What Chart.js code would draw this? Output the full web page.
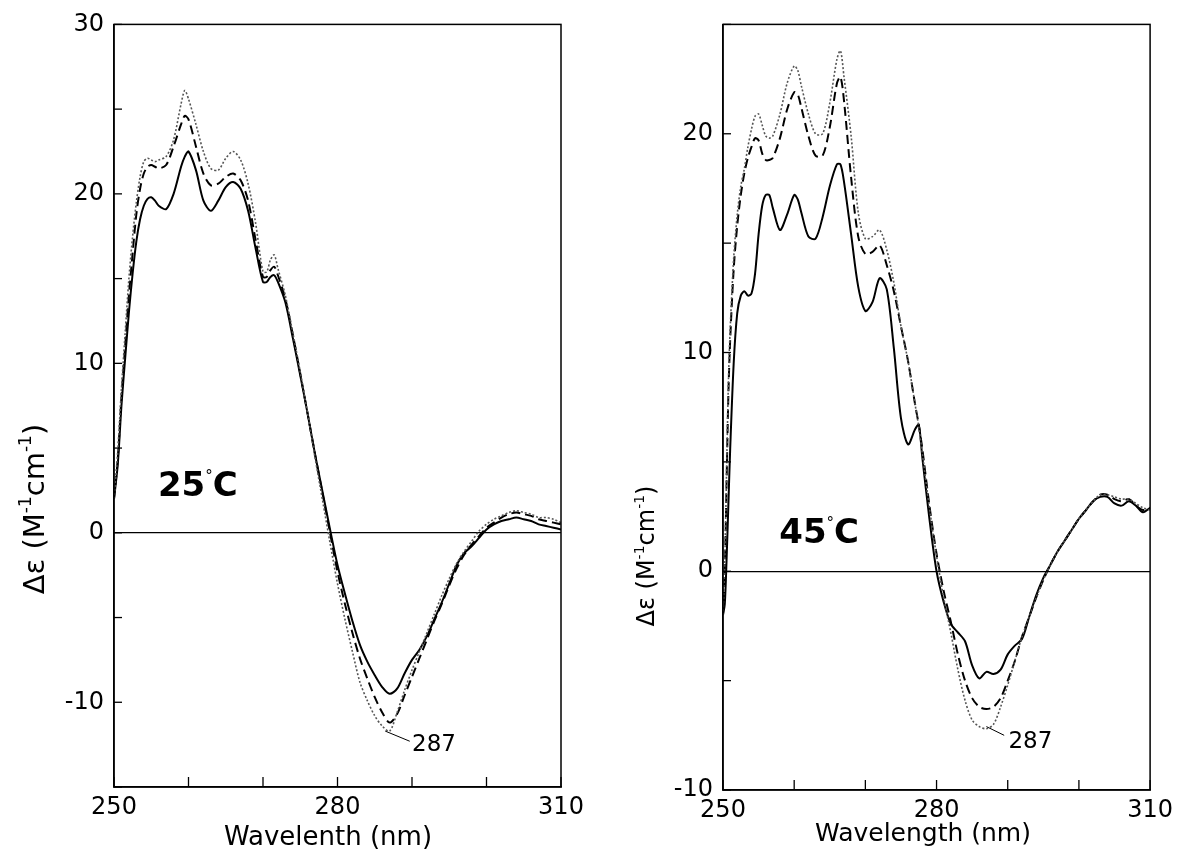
<!DOCTYPE html>
<html>
<head>
<meta charset="utf-8">
<script src="https://cdn.jsdelivr.net/npm/chart.js@4"></script>
<style>
html,body{margin:0;padding:0;background:#fff;}
#wrap{position:relative;width:1179px;height:854px;overflow:hidden;}
canvas{position:absolute;top:0;}
#c25{left:0;}
#c45{left:590px;}
</style>
</head>
<body>
<div id="wrap">
<canvas id="c25" width="590" height="854"></canvas>
<canvas id="c45" width="589" height="854"></canvas>
</div>
<script>
const FONT = '"DejaVu Sans", Verdana, sans-serif';

// tick labels shown (ticks are drawn every 10 nm / every 5 units)
const X_LABELS = [250, 280, 310];
const Y_LABELS_25 = [-10, 0, 10, 20, 30];
const Y_LABELS_45 = [-10, 0, 10, 20];

// 25 C panel
const WL_25 = [250,250.5,251,251.5,252,252.5,253,253.5,254,254.5,255,255.5,256,257,258,259,259.5,260,261,262,263,264,265,266,267,268,269,270,270.5,271,271.5,272,273,274,275,276,277,278,279,280,281,282,283,284,285,286,287,288,289,290,291,292,293,294,295,296,297,298,299,300,301,302,303,304,305,306,307,308,309,310];
const SOLID_25 = [2.0,4.0,7.5,10.3,13.0,15.3,17.2,18.5,19.3,19.7,19.8,19.6,19.3,19.1,20.0,21.6,22.2,22.5,21.4,19.6,19.0,19.6,20.4,20.7,20.3,19.0,16.8,14.8,14.8,15.1,15.2,14.8,13.6,11.5,9.3,7.0,4.6,2.4,0.2,-1.9,-3.6,-5.2,-6.6,-7.6,-8.4,-9.1,-9.5,-9.2,-8.3,-7.5,-6.9,-6.1,-5.1,-4.1,-3.0,-1.9,-1.2,-0.8,-0.3,0.2,0.5,0.7,0.8,0.9,0.8,0.7,0.5,0.4,0.3,0.2];
const DASHED_25 = [2.0,4.3,8.0,11.0,14.0,16.5,18.8,20.3,21.2,21.6,21.7,21.6,21.5,21.7,22.8,24.1,24.6,24.4,22.8,21.2,20.5,20.6,21.0,21.2,20.8,19.6,17.3,15.1,15.1,15.5,15.7,15.2,13.8,11.7,9.4,7.0,4.6,2.3,0.0,-2.3,-4.2,-5.9,-7.4,-8.6,-9.7,-10.6,-11.2,-10.7,-9.6,-8.5,-7.4,-6.3,-5.2,-4.2,-3.1,-2.1,-1.3,-0.7,-0.2,0.3,0.6,0.9,1.1,1.2,1.1,1.0,0.8,0.7,0.6,0.5];
const DOTTED_25 = [2.0,4.8,8.5,11.8,15.0,17.5,19.5,21.0,21.9,22.1,22.0,21.9,22.0,22.2,23.2,25.3,26.1,25.6,24.1,22.5,21.5,21.4,22.1,22.5,22.0,20.6,18.3,15.4,15.4,16.1,16.4,15.6,14.0,11.8,9.5,7.0,4.4,1.9,-0.6,-3.0,-5.1,-7.0,-8.8,-9.9,-10.8,-11.4,-11.7,-10.6,-9.3,-8.1,-7.0,-5.9,-4.8,-3.7,-2.7,-1.8,-1.1,-0.5,0.1,0.5,0.8,1.0,1.2,1.3,1.2,1.1,0.9,0.9,0.8,0.6];

// 45 C panel
const WL_45 = [250,250.25,250.5,250.75,251,251.5,252,252.5,253,253.5,254,254.5,255,255.5,256,256.5,257,258,259,260,260.5,261,262,263,264,265,266,266.5,267,268,269,270,271,272,273,274,275,276,277,277.5,278,279,280,281,282,283,284,285,286,287,288,289,290,291,292,293,294,295,296,297,298,299,300,301,302,303,304,305,306,307,308,309,310];
const SOLID_45 = [-2.0,-1.5,0.5,3.0,5.5,9.5,11.8,12.6,12.8,12.6,12.7,13.6,15.4,16.7,17.2,17.2,16.6,15.6,16.3,17.2,17.0,16.4,15.3,15.2,16.2,17.6,18.6,18.6,17.8,15.4,13.0,11.9,12.3,13.4,12.9,10.2,7.0,5.8,6.5,6.7,5.2,2.4,0.0,-1.4,-2.4,-2.8,-3.2,-4.3,-4.9,-4.6,-4.7,-4.5,-3.8,-3.4,-3.1,-2.1,-1.1,-0.3,0.3,0.9,1.4,1.9,2.4,2.8,3.2,3.4,3.4,3.1,3.0,3.2,3.0,2.7,2.9];
const DASHED_45 = [-2.0,0.0,4.0,8.0,10.5,13.8,15.8,17.2,18.2,18.9,19.4,19.8,19.7,19.1,18.8,18.8,18.9,19.8,21.1,21.9,21.8,21.2,19.9,19.0,19.0,20.3,22.3,22.6,21.5,18.0,15.3,14.5,14.6,14.9,14.0,12.8,11.2,9.6,7.6,6.7,5.6,3.0,0.8,-0.9,-2.3,-3.8,-5.0,-5.8,-6.2,-6.3,-6.2,-5.8,-5.0,-4.1,-3.0,-2.1,-1.2,-0.4,0.3,0.9,1.4,1.9,2.4,2.8,3.2,3.5,3.5,3.3,3.2,3.3,3.0,2.8,2.9];
const DOTTED_45 = [-2.0,0.5,4.5,8.5,11.0,14.3,16.3,17.6,18.4,19.4,20.2,20.8,20.9,20.4,19.9,19.8,19.9,20.9,22.3,23.1,22.9,22.2,20.9,20.0,20.0,21.4,23.4,23.8,22.6,19.9,16.4,15.2,15.3,15.6,14.7,13.2,11.2,9.6,7.6,6.6,5.4,2.9,0.7,-1.2,-2.8,-4.5,-5.9,-6.8,-7.1,-7.2,-7.0,-6.2,-5.2,-4.1,-3.0,-2.1,-1.2,-0.4,0.3,0.9,1.4,1.9,2.4,2.8,3.2,3.5,3.5,3.4,3.3,3.3,3.1,2.9,2.8];

function pts(wl, vals){ return wl.map((w,i)=>({x:w, y:vals[i]})); }

function line(ctx, x1, y1, x2, y2){
  ctx.beginPath(); ctx.moveTo(x1, y1); ctx.lineTo(x2, y2); ctx.stroke();
}

// draw a row of text pieces [text, font, dy]; align 'center' or 'left'
function runs(ctx, parts, x, y, align){
  let w = 0;
  parts.forEach(p => { ctx.font = p[1]; w += ctx.measureText(p[0]).width; });
  let cx = align === 'left' ? x : x - w/2;
  parts.forEach(p => {
    ctx.font = p[1];
    ctx.fillText(p[0], cx, y + (p[2] || 0));
    cx += ctx.measureText(p[0]).width;
  });
}

const decor = {
  id: 'decor',
  afterDraw(chart){
    const o = chart.options.plugins.decor;
    const {ctx, chartArea: a, scales: {x, y}} = chart;
    ctx.save();
    ctx.strokeStyle = '#000';
    ctx.fillStyle = '#000';
    ctx.lineWidth = 1.5;
    ctx.strokeRect(a.left, a.top, a.right - a.left, a.bottom - a.top);
    // inward tick marks
    ctx.lineWidth = 1.3;
    x.ticks.forEach(t => { const px = x.getPixelForValue(t.value); line(ctx, px, a.bottom, px, a.bottom - 10); });
    y.ticks.forEach(t => { const py = y.getPixelForValue(t.value); line(ctx, a.left, py, a.left + 8, py); });

    // temperature label
    ctx.textBaseline = 'alphabetic';
    const tx = x.getPixelForValue(o.temp.at[0]), ty = y.getPixelForValue(o.temp.at[1]);
    runs(ctx, [[o.temp.num, 'bold 34px ' + FONT], ['\u00b0', '15px ' + FONT, -15], ['C', 'bold 34px ' + FONT]], tx, ty, 'left');

    // 287 marker
    ctx.lineWidth = 1;
    line(ctx, x.getPixelForValue(o.peak.from[0]), y.getPixelForValue(o.peak.from[1]),
              x.getPixelForValue(o.peak.to[0]), y.getPixelForValue(o.peak.to[1]));
    ctx.textBaseline = 'middle';
    ctx.font = '23px ' + FONT;
    ctx.fillText('287', x.getPixelForValue(o.peak.text[0]), y.getPixelForValue(o.peak.text[1]));

    // axis titles
    ctx.font = o.xTitle.size + 'px ' + FONT;
    ctx.textAlign = 'center';
    ctx.fillText(o.xTitle.text, o.xTitle.at[0], o.xTitle.at[1]);
    ctx.textAlign = 'left';
    const s = o.yTitle.size, sup = Math.round(s * 0.6);
    ctx.translate(o.yTitle.at[0], o.yTitle.at[1]);
    ctx.rotate(-Math.PI/2);
    runs(ctx, [
      ['\u0394\u03b5 (M', s + 'px ' + FONT],
      ['-1', sup + 'px ' + FONT, -s*0.33],
      ['cm', s + 'px ' + FONT],
      ['-1', sup + 'px ' + FONT, -s*0.33],
      [')', s + 'px ' + FONT]
    ], 0, 0, 'center');
    ctx.restore();
  }
};

function makeChart(id, p){
  return new Chart(document.getElementById(id), {
    type: 'line',
    data: {
      datasets: [
        { data: pts(p.wl, p.dotted), borderColor: '#555', borderWidth: 1.6, borderDash: [2, 2] },
        { data: pts(p.wl, p.dashed), borderColor: '#000', borderWidth: 2, borderDash: [9, 5] },
        { data: pts(p.wl, p.solid), borderColor: '#000', borderWidth: 2 }
      ]
    },
    options: {
      responsive: false,
      animation: false,
      parsing: false,
      elements: { point: { radius: 0 }, line: { tension: 0.3, fill: false } },
      layout: { padding: p.pad },
      plugins: {
        legend: { display: false },
        tooltip: { enabled: false },
        decor: p.decor
      },
      scales: {
        x: {
          type: 'linear', min: 250, max: 310,
          afterFit: s => { s.height = p.xH; },
          ticks: { stepSize: 10, padding: 6, color: '#000', font: { family: FONT, size: 24 },
                   callback: v => X_LABELS.includes(v) ? String(v) : '' },
          grid: { drawOnChartArea: false, drawTicks: false },
          border: { color: '#000', width: 1.5 }
        },
        y: {
          type: 'linear', min: p.yMin, max: p.yMax,
          afterFit: s => { s.width = p.yW; },
          ticks: { stepSize: 5, padding: 10, color: '#000', font: { family: FONT, size: 24 },
                   callback: v => p.yLabels.includes(v) ? String(v) : '' },
          grid: { drawTicks: false, lineWidth: 1.2,
                  color: c => (c.tick && c.tick.value === 0) ? '#000' : 'rgba(0,0,0,0)' },
          border: { color: '#000', width: 1.5 }
        }
      }
    },
    plugins: [decor]
  });
}

makeChart('c25', {
  wl: WL_25, solid: SOLID_25, dashed: DASHED_25, dotted: DOTTED_25,
  yMin: -15, yMax: 30, yLabels: Y_LABELS_25,
  pad: { left: 0, top: 22, right: 29, bottom: 0 }, yW: 114, xH: 67,
  decor: {
    temp: { num: '25', at: [255.9, 2.2] },
    peak: { from: [286.4, -11.7], to: [289.7, -12.3], text: [290.0, -12.5] },
    xTitle: { text: 'Wavelenth (nm)', size: 26, at: [328, 838] },
    yTitle: { size: 29, at: [36, 509] }
  }
});

makeChart('c45', {
  wl: WL_45, solid: SOLID_45, dashed: DASHED_45, dotted: DOTTED_45,
  yMin: -10, yMax: 25, yLabels: Y_LABELS_45,
  pad: { left: 0, top: 22, right: 25, bottom: 0 }, yW: 133, xH: 64,
  decor: {
    temp: { num: '45', at: [257.9, 1.3] },
    peak: { from: [287.0, -7.1], to: [289.5, -7.5], text: [290.1, -7.8] },
    xTitle: { text: 'Wavelength (nm)', size: 25, at: [333, 834] },
    yTitle: { size: 24, at: [58, 556] }
  }
});
</script>
</body>
</html>
